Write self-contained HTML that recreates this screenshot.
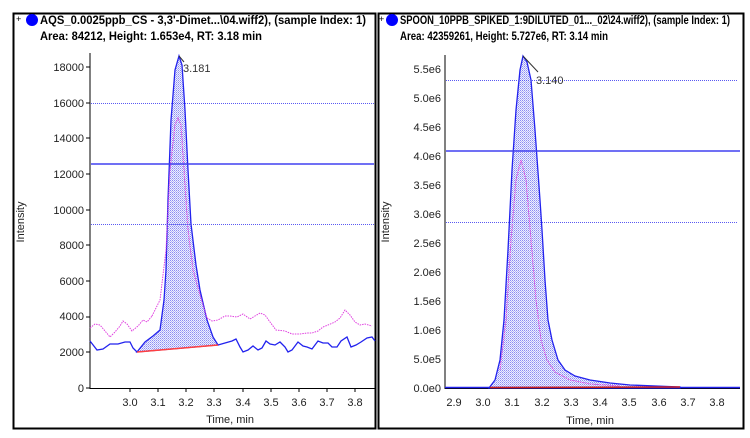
<!DOCTYPE html>
<html><head><meta charset="utf-8"><style>
html,body{margin:0;padding:0;background:#fff;}
svg{display:block;font-family:"Liberation Sans",sans-serif;}
</style></head><body>
<svg width="750" height="438" viewBox="0 0 750 438" xmlns="http://www.w3.org/2000/svg">
<defs>
<pattern id="ck" width="2" height="2" patternUnits="userSpaceOnUse">
<rect width="2" height="2" fill="#eef0ff"/><rect width="1" height="1" fill="#8c8cf2"/><rect x="1" y="1" width="1" height="1" fill="#b4b4f6"/>
</pattern>
</defs>
<!-- Left panel -->
<rect x="13.5" y="13.5" width="362" height="415" fill="none" stroke="#000" stroke-width="2"/>
<text x="16" y="22" font-size="9">+</text>
<circle cx="32" cy="20" r="6" fill="#0000ff"/>
<text x="40" y="24" font-size="11.5" font-weight="bold" textLength="326" lengthAdjust="spacingAndGlyphs">AQS_0.0025ppb_CS - 3,3'-Dimet...\04.wiff2), (sample Index: 1)</text>
<text x="40" y="40" font-size="11.5" font-weight="bold" textLength="222" lengthAdjust="spacingAndGlyphs">Area: 84212, Height: 1.653e4, RT: 3.18 min</text>
<line x1="90" y1="53" x2="90" y2="389" stroke="#000"/>
<line x1="90" y1="388.5" x2="375" y2="388.5" stroke="#000"/>
<g font-size="11" fill="#222" text-anchor="end">
<text x="84" y="392">0</text><text x="84" y="356">2000</text><text x="84" y="320">4000</text><text x="84" y="285">6000</text><text x="84" y="249">8000</text><text x="84" y="214">10000</text><text x="84" y="178">12000</text><text x="84" y="142">14000</text><text x="84" y="107">16000</text><text x="84" y="71">18000</text>
</g>
<g stroke="#000">
<line x1="86" y1="388" x2="90" y2="388"/><line x1="86" y1="352" x2="90" y2="352"/><line x1="86" y1="317" x2="90" y2="317"/><line x1="86" y1="281" x2="90" y2="281"/><line x1="86" y1="245" x2="90" y2="245"/><line x1="86" y1="210" x2="90" y2="210"/><line x1="86" y1="174" x2="90" y2="174"/><line x1="86" y1="138" x2="90" y2="138"/><line x1="86" y1="103" x2="90" y2="103"/><line x1="86" y1="67" x2="90" y2="67"/>
<line x1="130" y1="388" x2="130" y2="392"/><line x1="158" y1="388" x2="158" y2="392"/><line x1="186" y1="388" x2="186" y2="392"/><line x1="214" y1="388" x2="214" y2="392"/><line x1="243" y1="388" x2="243" y2="392"/><line x1="271" y1="388" x2="271" y2="392"/><line x1="299" y1="388" x2="299" y2="392"/><line x1="327" y1="388" x2="327" y2="392"/><line x1="355" y1="388" x2="355" y2="392"/>
</g>
<g font-size="11" fill="#222" text-anchor="middle">
<text x="130" y="406">3.0</text><text x="158" y="406">3.1</text><text x="186" y="406">3.2</text><text x="214" y="406">3.3</text><text x="243" y="406">3.4</text><text x="271" y="406">3.5</text><text x="299" y="406">3.6</text><text x="327" y="406">3.7</text><text x="355" y="406">3.8</text>
<text x="230" y="423">Time, min</text>
</g>
<text transform="translate(24,222) rotate(-90)" font-size="11" text-anchor="middle" fill="#222">Intensity</text>
<path d="M137,352 L145,342 L153,336 L160,330 L164,300 L166,270 L168,200 L171,120 L175,70 L179,56 L182,65 L185,110 L188,170 L191,224 L196,265 L200,290 L207,320 L213,337 L218,345 Z" fill="url(#ck)" stroke="#2222ee" stroke-width="1.3"/>
<path d="M152,316 L160,300 L166,250 L170,170 L175,125 L178,118 L181,125 L184,170 L188,230 L193,270 L200,295 L207,318" fill="none" stroke="#e040e0" stroke-width="1" stroke-dasharray="1.5,1"/>
<line x1="137" y1="352" x2="218" y2="345" stroke="#ff4040" stroke-width="1.5"/>
<polyline points="90,341 97,350 103,349 110,344 118,344 125,342 130,342 133,348 137,352" fill="none" stroke="#2222ee" stroke-width="1.3"/>
<polyline points="218,345 225,343 232,341 236,339 240,347 243,352 248,350 253,346 258,350 262,348 266,341 270,344 275,345 280,342 285,347 288,352 292,350 298,342 303,346 307,347 312,349 318,341 323,343 328,343 332,347 337,347 341,341 347,337 351,347 356,345 361,342 367,338 372,337 375,341" fill="none" stroke="#2222ee" stroke-width="1.3"/>
<polyline points="90,328 95,324 100,325 105,331 110,337 115,332 120,326 123,321 127,324 132,331 138,326 143,320 147,322 152,316" fill="none" stroke="#e040e0" stroke-width="1" stroke-dasharray="1.5,1"/>
<polyline points="207,318 212,321 218,320 225,316 230,316 237,317 243,314 250,319 255,316 260,313 265,315 270,322 276,330 285,331 292,334 300,334 307,333 312,333 318,331 323,327 328,325 335,322 340,318 345,310 350,315 355,322 360,325 365,324 372,326" fill="none" stroke="#e040e0" stroke-width="1" stroke-dasharray="1.5,1"/>
<line x1="91" y1="103.5" x2="374" y2="103.5" stroke="#5a5af2" stroke-dasharray="1,1"/>
<line x1="91" y1="164" x2="374" y2="164" stroke="#4040f0" stroke-width="1.5"/>
<line x1="91" y1="224.5" x2="374" y2="224.5" stroke="#5a5af2" stroke-dasharray="1,1"/>
<line x1="179" y1="56" x2="184" y2="62" stroke="#333"/>
<text x="183" y="72" font-size="11" fill="#333">3.181</text>
<!-- Right panel -->
<rect x="378.5" y="13.5" width="365" height="415" fill="none" stroke="#000" stroke-width="2"/>
<text x="379" y="22" font-size="9">+</text>
<circle cx="392" cy="20" r="6" fill="#0000ff"/>
<text x="400" y="24" font-size="11.5" font-weight="bold" textLength="330" lengthAdjust="spacingAndGlyphs">SPOON_10PPB_SPIKED_1:9DILUTED_01..._02\24.wiff2), (sample Index: 1)</text>
<text x="400" y="40" font-size="11.5" font-weight="bold" textLength="208" lengthAdjust="spacingAndGlyphs">Area: 42359261, Height: 5.727e6, RT: 3.14 min</text>
<line x1="445" y1="55" x2="445" y2="389" stroke="#000"/>
<line x1="445" y1="388.5" x2="740" y2="388.5" stroke="#000"/>
<g font-size="11" fill="#222" text-anchor="end">
<text x="441" y="392">0.0e0</text><text x="441" y="363">5.0e5</text><text x="441" y="334">1.0e6</text><text x="441" y="305">1.5e6</text><text x="441" y="276">2.0e6</text><text x="441" y="247">2.5e6</text><text x="441" y="218">3.0e6</text><text x="441" y="189">3.5e6</text><text x="441" y="160">4.0e6</text><text x="441" y="131">4.5e6</text><text x="441" y="102">5.0e6</text><text x="441" y="73">5.5e6</text>
</g>
<g font-size="11" fill="#222" text-anchor="middle">
<text x="454" y="406">2.9</text><text x="483" y="406">3.0</text><text x="512" y="406">3.1</text><text x="542" y="406">3.2</text><text x="571" y="406">3.3</text><text x="600" y="406">3.4</text><text x="629" y="406">3.5</text><text x="659" y="406">3.6</text><text x="688" y="406">3.7</text><text x="717" y="406">3.8</text>
<text x="590" y="424">Time, min</text>
</g>
<text transform="translate(389,222) rotate(-90)" font-size="11" text-anchor="middle" fill="#222">Intensity</text>
<path d="M489,388 L495,380 L500,360 L504,320 L508,250 L512,170 L516,110 L520,70 L523,56 L527,62 L531,80 L535,130 L540,200 L542,230 L545,280 L548,320 L552,340 L558,360 L565,370 L575,376 L590,380 L610,383 L630,385 L680,387 L680,388 Z" fill="url(#ck)" stroke="#2222ee" stroke-width="1.3"/>
<path d="M500,370 L506,320 L511,240 L516,180 L521,160 L526,180 L531,240 L536,300 L541,340 L547,360 L555,372 L570,380 L590,384 L620,386" fill="none" stroke="#e040e0" stroke-width="1" stroke-dasharray="1.5,1"/>
<line x1="445" y1="387.5" x2="740" y2="387.5" stroke="#2222ee" stroke-width="1.5"/>
<line x1="490" y1="387.5" x2="680" y2="387" stroke="#cc2020" stroke-width="1.5"/>
<line x1="446" y1="80.5" x2="738" y2="80.5" stroke="#5a5af2" stroke-dasharray="1,1"/>
<line x1="446" y1="151" x2="740" y2="151" stroke="#4040f0" stroke-width="1.5"/>
<line x1="446" y1="222.5" x2="738" y2="222.5" stroke="#5a5af2" stroke-dasharray="1,1"/>
<line x1="523" y1="56" x2="538" y2="72" stroke="#333"/>
<text x="536" y="84" font-size="11" fill="#333">3.140</text>
</svg>
</body></html>
